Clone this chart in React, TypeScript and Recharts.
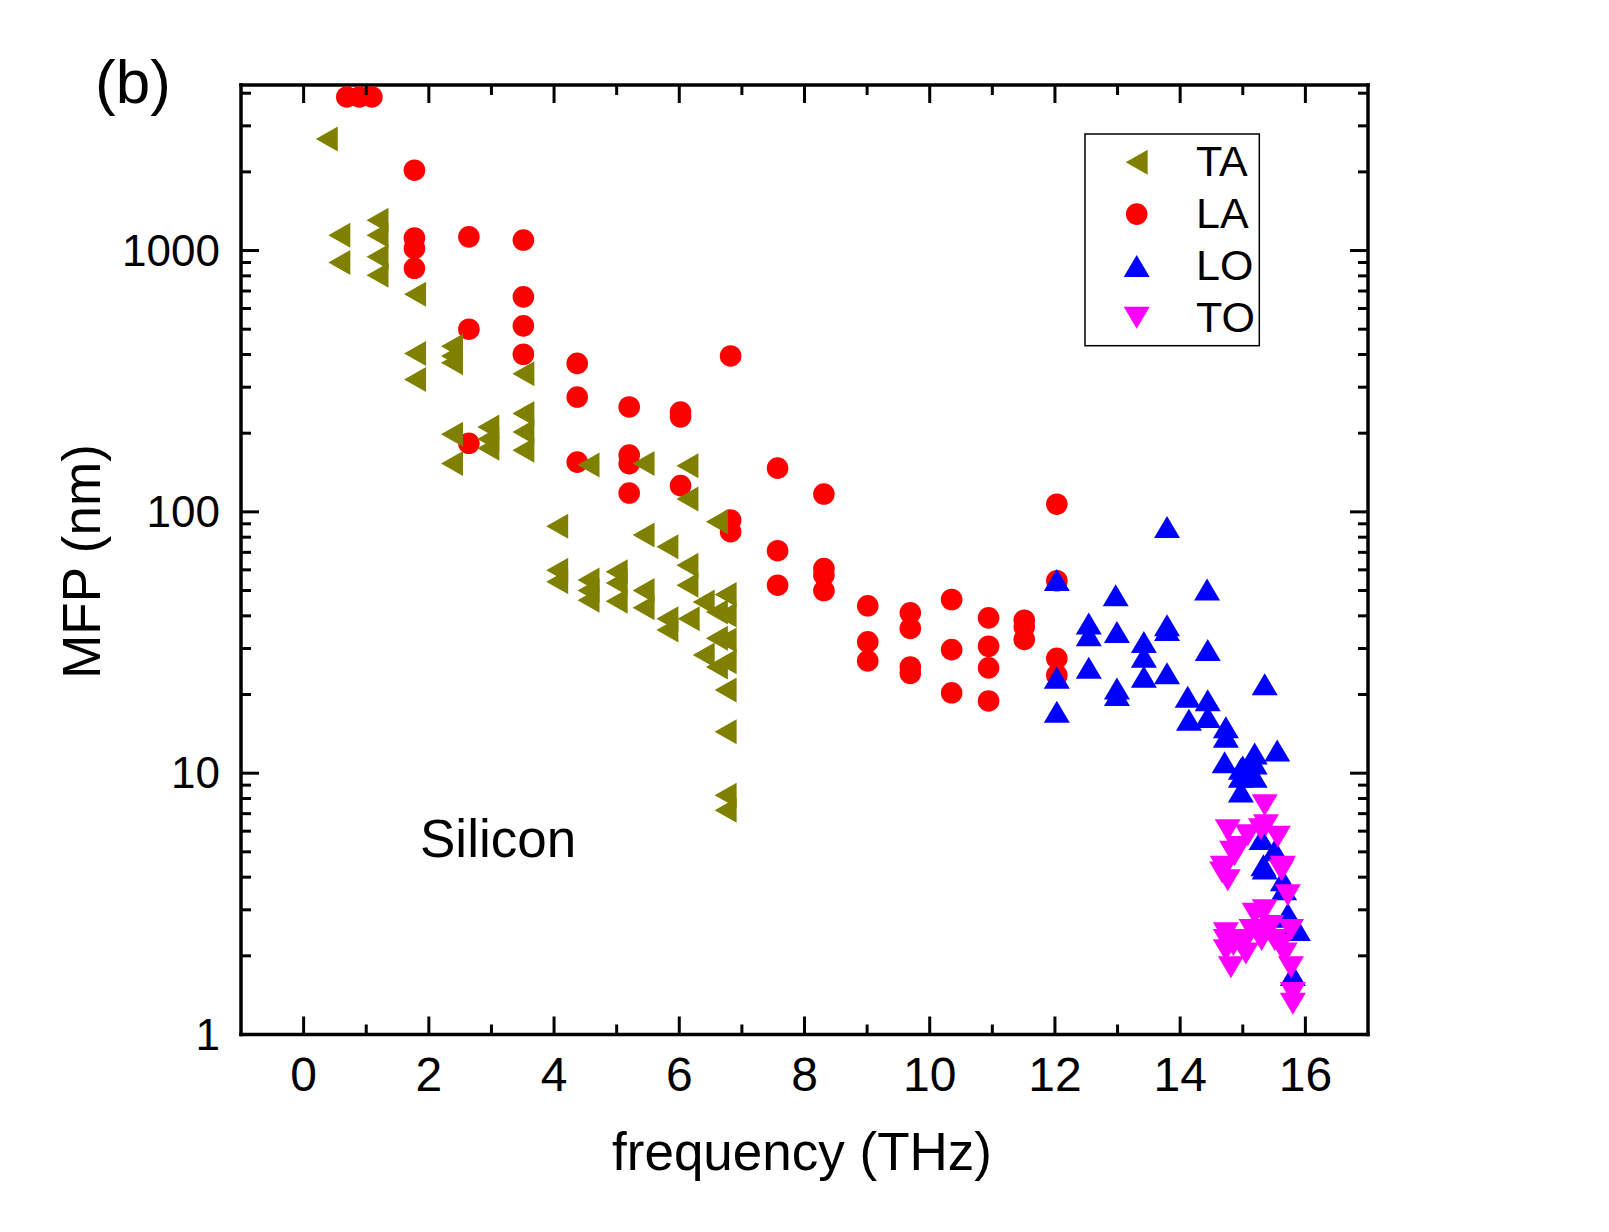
import React from 'react';
import { ScatterChart, Scatter, XAxis, YAxis } from 'recharts';

const FONT = '"Liberation Sans", Arial, Helvetica, sans-serif';

// Phonon mean free path in silicon: [frequency (THz), MFP (nm)]
const TA_POINTS: [number, number][] = [
  [0.37, 2670], [0.57, 1145], [0.57, 900],
  [1.18, 1307], [1.18, 1145], [1.18, 946], [1.18, 805],
  [1.78, 681], [1.78, 404], [1.78, 321],
  [2.37, 430], [2.37, 395], [2.37, 372], [2.37, 198], [2.37, 153],
  [2.95, 211], [2.95, 190], [2.95, 175],
  [3.51, 338], [3.51, 238], [3.51, 202], [3.51, 172],
  [4.05, 88], [4.05, 59.8], [4.05, 54],
  [4.55, 151], [4.55, 54.8], [4.55, 50], [4.55, 45.9],
  [5.0, 59], [5.0, 53.4], [5.0, 45.5],
  [5.43, 153], [5.43, 81.5], [5.43, 50], [5.43, 43],
  [5.81, 73.5], [5.81, 39], [5.81, 35.3],
  [6.13, 150], [6.13, 112], [6.13, 62.5], [6.13, 52.4], [6.15, 39],
  [6.39, 45.2], [6.39, 28.3],
  [6.6, 91.6], [6.6, 41.4], [6.6, 32.8], [6.6, 25.5],
  [6.74, 48.3], [6.74, 40.3], [6.74, 32.3], [6.74, 26.7], [6.74, 20.8],
  [6.74, 14.4], [6.74, 8.24], [6.74, 7.22],
];

const LA_POINTS: [number, number][] = [
  [0.69, 3870], [0.89, 3870], [1.09, 3870],
  [1.77, 2030], [1.77, 1117], [1.77, 1019], [1.77, 855],
  [2.64, 1128], [2.64, 500], [2.64, 183],
  [3.51, 1097], [3.51, 665], [3.51, 515], [3.51, 401],
  [4.37, 370], [4.37, 275], [4.37, 155],
  [5.2, 252], [5.2, 165], [5.2, 153], [5.2, 118],
  [6.02, 241], [6.02, 231], [6.02, 126],
  [6.82, 395], [6.82, 93], [6.82, 84],
  [7.57, 147], [7.57, 71], [7.57, 52.4],
  [8.31, 117], [8.31, 60.7], [8.31, 57.3], [8.31, 50],
  [9.01, 43.7], [9.01, 31.8], [9.01, 26.9],
  [9.69, 41.1], [9.69, 35.8], [9.69, 25.5], [9.69, 24.1],
  [10.35, 46.2], [10.35, 29.7], [10.35, 20.3],
  [10.94, 39.3], [10.94, 30.6], [10.94, 25.3], [10.94, 18.9],
  [11.51, 38.5], [11.51, 36.3], [11.51, 32.5],
  [12.03, 107], [12.03, 54.5], [12.03, 27.5], [12.03, 23.7],
];

const LO_POINTS: [number, number][] = [
  [12.03, 54.8], [12.03, 23.2], [12.03, 17.2],
  [12.54, 37.4], [12.54, 33.7], [12.54, 25.3],
  [12.97, 48], [12.99, 34.7], [12.99, 21.1], [12.99, 19.9],
  [13.42, 31.8], [13.42, 27.9], [13.42, 23.4],
  [13.79, 87.6], [13.79, 36.8], [13.79, 35.3], [13.79, 24.1],
  [14.12, 19.6], [14.14, 16.0],
  [14.43, 50.5], [14.44, 29.6], [14.44, 19.0], [14.44, 16.4],
  [14.73, 15.0], [14.73, 13.8], [14.71, 11.0],
  [15.35, 21.9], [15.55, 12.2], [15.19, 11.9], [15.19, 10.9],
  [15.0, 10.6], [15.1, 10.0], [14.97, 10.4], [14.97, 9.7], [15.19, 9.7], [14.97, 8.5],
  [15.3, 5.6], [15.51, 5.07], [15.33, 4.44], [15.35, 4.32], [15.64, 3.89],
  [15.66, 3.6], [15.72, 2.9], [15.72, 2.82], [15.83, 2.58], [15.88, 2.51], [15.8, 1.69],
];

const TO_POINTS: [number, number][] = [
  [15.35, 7.54], [14.76, 6.05], [15.37, 6.32], [15.29, 6.1], [15.08, 5.79], [15.56, 5.71],
  [14.92, 5.22], [14.87, 4.86], [14.83, 5.0], [14.68, 4.38], [14.67, 4.17], [14.76, 3.89],
  [15.64, 4.38], [15.62, 4.25], [15.72, 3.41],
  [14.73, 2.44], [14.73, 2.3], [14.73, 2.1], [14.81, 1.81], [14.85, 2.2],
  [14.95, 2.3], [15.0, 2.2], [15.05, 2.04], [15.14, 2.51], [15.19, 2.9], [15.25, 2.5],
  [15.35, 2.99], [15.3, 2.3], [15.45, 2.6], [15.51, 2.3], [15.6, 2.2], [15.67, 2.04],
  [15.77, 2.51], [15.77, 1.81], [15.8, 1.44], [15.8, 1.31],
];

const X_TICKS = [0, 1, 2, 3, 4, 5, 6, 7, 8, 9, 10, 11, 12, 13, 14, 15, 16];
const X_DOMAIN: [number, number] = [-1, 17];
const Y_DOMAIN: [number, number] = [1, 4300];
const Y_TICKS = [
  1, 2, 3, 4, 5, 6, 7, 8, 9,
  10, 20, 30, 40, 50, 60, 70, 80, 90,
  100, 200, 300, 400, 500, 600, 700, 800, 900,
  1000, 2000, 3000, 4000,
];

const COLORS = { TA: '#808000', LA: '#ff0000', LO: '#0000ff', TO: '#ff00ff' };

const toRows = (pts: [number, number][]) => pts.map(([f, mfp]) => ({ f, mfp }));

const MAJOR = 18;
const MINOR = 10;
const TICK_W = 3;

const isDecade = (v: number) => Math.abs(Math.log10(v) - Math.round(Math.log10(v))) < 1e-9;

// Marker shapes (centred on their bounding box)
const TriLeft = ({ cx, cy, fill }: any) => (
  <polygon points={`${cx - 11},${cy} ${cx + 11},${cy - 12.5} ${cx + 11},${cy + 12.5}`} fill={fill} />
);
const TriUp = ({ cx, cy, fill }: any) => (
  <polygon points={`${cx},${cy - 11} ${cx + 13},${cy + 11} ${cx - 13},${cy + 11}`} fill={fill} />
);
const TriDown = ({ cx, cy, fill }: any) => (
  <polygon points={`${cx},${cy + 11} ${cx + 13},${cy - 11} ${cx - 13},${cy - 11}`} fill={fill} />
);
const Dot = ({ cx, cy, fill }: any) => <circle cx={cx} cy={cy} r={10.8} fill={fill} />;

const BottomTick = ({ x, y, payload }: any) => {
  const v = payload.value;
  const major = v % 2 === 0;
  return (
    <g>
      <line x1={x} x2={x} y1={y} y2={y - (major ? MAJOR : MINOR)} stroke="#000" strokeWidth={TICK_W} />
      {major && (
        <text x={x} y={y + 56} textAnchor="middle" fontSize={48} fontFamily={FONT} fill="#000">
          {v}
        </text>
      )}
    </g>
  );
};

const TopTick = ({ x, y, payload }: any) => {
  const major = payload.value % 2 === 0;
  return <line x1={x} x2={x} y1={y} y2={y + (major ? MAJOR : MINOR)} stroke="#000" strokeWidth={TICK_W} />;
};

const LeftTick = ({ x, y, payload }: any) => {
  const v = payload.value;
  const major = isDecade(v);
  return (
    <g>
      <line x1={x} x2={x + (major ? MAJOR : MINOR)} y1={y} y2={y} stroke="#000" strokeWidth={TICK_W} />
      {major && (
        <text x={x - 21} y={y + 15} textAnchor="end" fontSize={44} fontFamily={FONT} fill="#000">
          {v}
        </text>
      )}
    </g>
  );
};

const RightTick = ({ x, y, payload }: any) => {
  const major = isDecade(payload.value);
  return <line x1={x} x2={x - (major ? MAJOR : MINOR)} y1={y} y2={y} stroke="#000" strokeWidth={TICK_W} />;
};

const axisLine = { stroke: '#000', strokeWidth: 3.5, strokeLinecap: 'square' as const };

const LEGEND = [
  { name: 'TA', Shape: TriLeft, color: COLORS.TA },
  { name: 'LA', Shape: Dot, color: COLORS.LA },
  { name: 'LO', Shape: TriUp, color: COLORS.LO },
  { name: 'TO', Shape: TriDown, color: COLORS.TO },
];

const W = 1593;
const H = 1216;

export default function App() {
  return (
    <div style={{ position: 'relative', width: W, height: H, background: '#fff' }}>
      <ScatterChart width={W} height={H} margin={{ top: 67, right: 223, bottom: 89.5, left: 133 }}>
        <XAxis
          xAxisId="bottom"
          type="number"
          dataKey="f"
          domain={X_DOMAIN}
          allowDataOverflow
          ticks={X_TICKS}
          interval={0}
          tickSize={0}
          tickMargin={0}
          tickLine={false}
          axisLine={axisLine}
          tick={BottomTick}
          height={100}
        />
        <XAxis
          xAxisId="top"
          orientation="top"
          type="number"
          dataKey="f"
          domain={X_DOMAIN}
          allowDataOverflow
          ticks={X_TICKS}
          interval={0}
          tickSize={0}
          tickMargin={0}
          tickLine={false}
          axisLine={axisLine}
          tick={TopTick}
          height={10}
        />
        <YAxis
          yAxisId="left"
          type="number"
          dataKey="mfp"
          scale="log"
          domain={Y_DOMAIN}
          allowDataOverflow
          ticks={Y_TICKS}
          interval={0}
          tickSize={0}
          tickMargin={0}
          tickLine={false}
          axisLine={axisLine}
          tick={LeftTick}
          width={100}
        />
        <YAxis
          yAxisId="right"
          orientation="right"
          type="number"
          dataKey="mfp"
          scale="log"
          domain={Y_DOMAIN}
          allowDataOverflow
          ticks={Y_TICKS}
          interval={0}
          tickSize={0}
          tickMargin={0}
          tickLine={false}
          axisLine={axisLine}
          tick={RightTick}
          width={10}
        />
        <Scatter
          name="LA"
          xAxisId="bottom"
          yAxisId="left"
          data={toRows(LA_POINTS)}
          isAnimationActive={false}
          shape={(p: any) => <Dot cx={p.cx} cy={p.cy} fill={COLORS.LA} />}
        />
        <Scatter
          name="TA"
          xAxisId="bottom"
          yAxisId="left"
          data={toRows(TA_POINTS)}
          isAnimationActive={false}
          shape={(p: any) => <TriLeft cx={p.cx} cy={p.cy} fill={COLORS.TA} />}
        />
        <Scatter
          name="LO"
          xAxisId="bottom"
          yAxisId="left"
          data={toRows(LO_POINTS)}
          isAnimationActive={false}
          shape={(p: any) => <TriUp cx={p.cx} cy={p.cy} fill={COLORS.LO} />}
        />
        <Scatter
          name="TO"
          xAxisId="bottom"
          yAxisId="left"
          data={toRows(TO_POINTS)}
          isAnimationActive={false}
          shape={(p: any) => <TriDown cx={p.cx} cy={p.cy} fill={COLORS.TO} />}
        />
      </ScatterChart>
      <svg
        width={W}
        height={H}
        style={{ position: 'absolute', left: 0, top: 0, pointerEvents: 'none' }}
        fontFamily={FONT}
      >
        <text x={87} y={95} fontSize={62} fill="#000">(b)</text>
        <text transform="translate(92,553.5) rotate(-90)" textAnchor="middle" fontSize={53} fill="#000">
          MFP (nm)
        </text>
        <text x={794} y={1162} textAnchor="middle" fontSize={53} fill="#000">frequency (THz)</text>
        <text x={412} y={849} fontSize={53} fill="#000">Silicon</text>
        <rect x={1077} y={126} width={174.3} height={211.7} fill="#fff" stroke="#000" strokeWidth={1.5} />
        {LEGEND.map((item, i) => {
          const cy = 154.3 + i * 51.8;
          const { Shape } = item;
          return (
            <g key={item.name}>
              <Shape cx={1128.7} cy={cy} fill={item.color} />
              <text x={1188} y={cy + 14} fontSize={43} fill="#000">{item.name}</text>
            </g>
          );
        })}
      </svg>
    </div>
  );
}
